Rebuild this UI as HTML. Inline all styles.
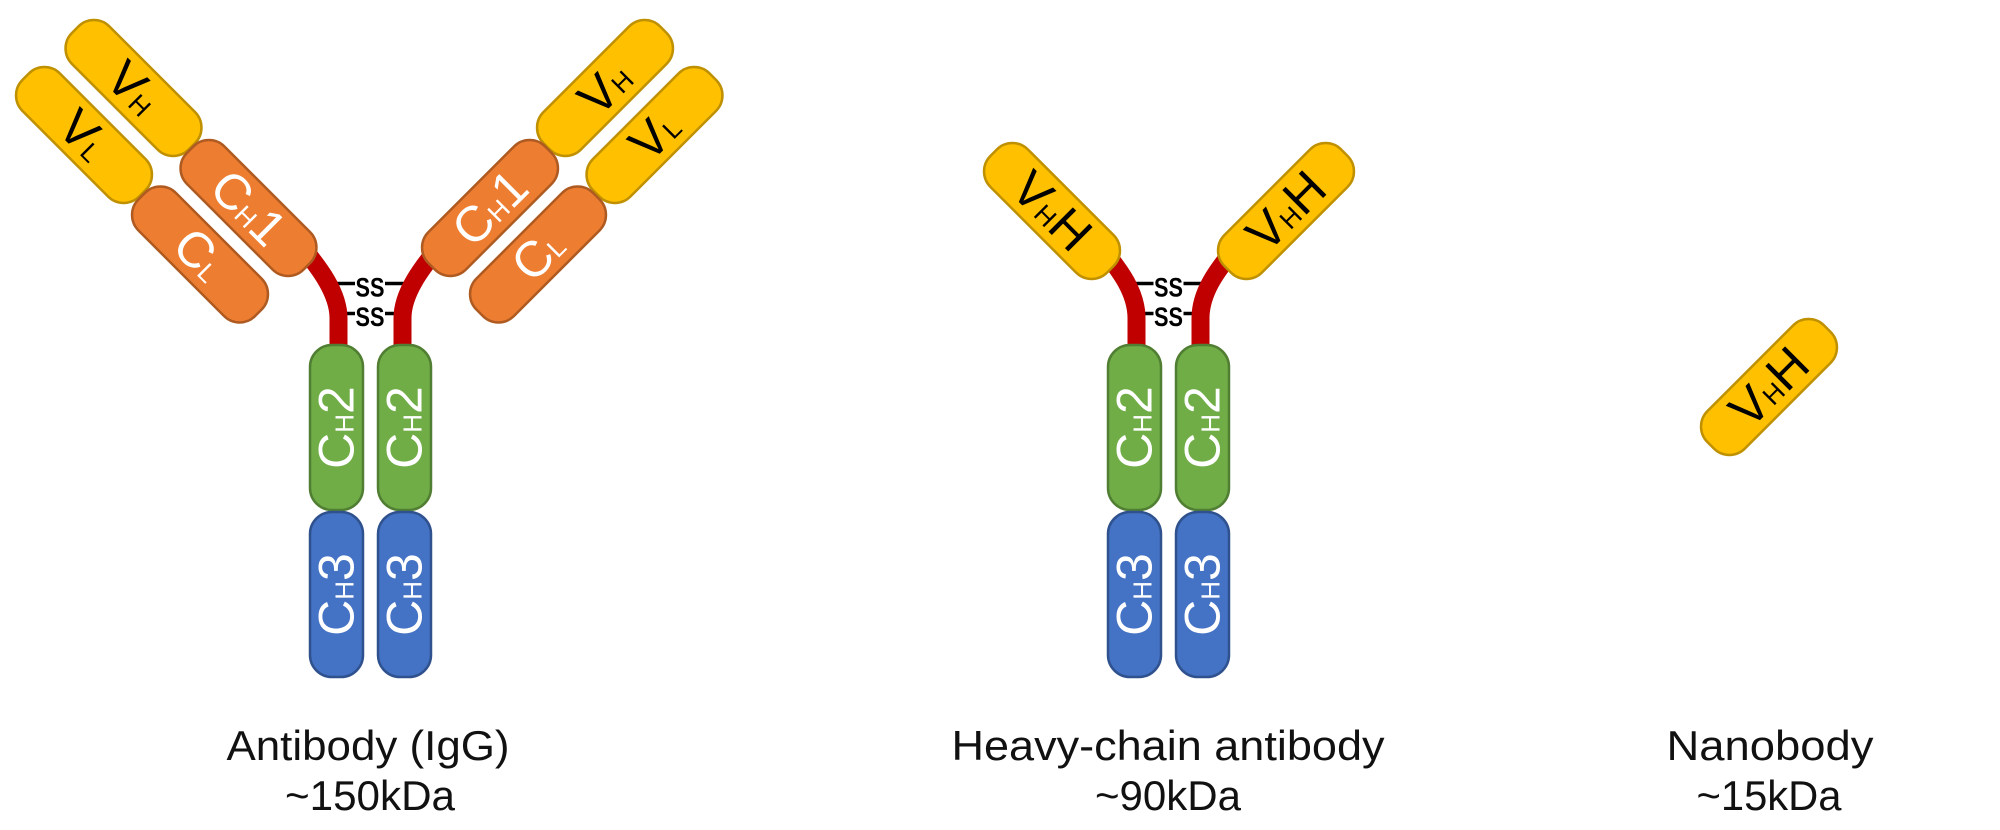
<!DOCTYPE html>
<html>
<head>
<meta charset="utf-8">
<style>
  html, body { margin: 0; padding: 0; background: #ffffff; }
  body { width: 2000px; height: 830px; overflow: hidden; }
  svg { display: block; }
  text { font-family: "Liberation Sans", "DejaVu Sans", sans-serif; }
</style>
</head>
<body>
<svg width="2000" height="830" viewBox="0 0 2000 830" xmlns="http://www.w3.org/2000/svg">
  <rect x="0" y="0" width="2000" height="830" fill="#ffffff"/>

  <!-- ================= ANTIBODY (IgG) ================= -->
  <g stroke="#000" stroke-width="3.5" fill="none">
    <line x1="326" y1="283.5" x2="355" y2="283.5"/>
    <line x1="385" y1="283.5" x2="415" y2="283.5"/>
    <line x1="336" y1="313.5" x2="355" y2="313.5"/>
    <line x1="385" y1="313.5" x2="405" y2="313.5"/>
  </g>
  <g stroke="#C00000" stroke-width="18" fill="none" stroke-linecap="butt">
    <path d="M303,248 C314,262 338.5,290 338.5,318 L338.5,350"/>
    <path d="M438,248 C427,262 402.5,290 402.5,318 L402.5,350"/>
  </g>
  <text x="370" y="296.5" font-size="27" font-weight="bold" text-anchor="middle" fill="#000" textLength="29" lengthAdjust="spacingAndGlyphs">SS</text>
  <text x="370" y="326" font-size="27" font-weight="bold" text-anchor="middle" fill="#000" textLength="29" lengthAdjust="spacingAndGlyphs">SS</text>

  <!-- left arm -->
  <g transform="translate(133.5,88) rotate(45)">
    <rect x="-82.5" y="-26.5" width="165" height="53" rx="22" fill="#FFC000" stroke="#BF9000" stroke-width="2.5"/>
    <text y="17" text-anchor="middle" font-size="50" fill="#000">V<tspan font-size="26">H</tspan></text>
  </g>
  <g transform="translate(84,135) rotate(45)">
    <rect x="-82.5" y="-26.5" width="165" height="53" rx="22" fill="#FFC000" stroke="#BF9000" stroke-width="2.5"/>
    <text y="17" text-anchor="middle" font-size="50" fill="#000">V<tspan font-size="26">L</tspan></text>
  </g>
  <g transform="translate(248.5,208) rotate(45)">
    <rect x="-82.5" y="-26.5" width="165" height="53" rx="22" fill="#ED7D31" stroke="#AE5A21" stroke-width="2.5"/>
    <text y="17" text-anchor="middle" font-size="50" fill="#fff">C<tspan font-size="26">H</tspan>1</text>
  </g>
  <g transform="translate(200,254.5) rotate(45)">
    <rect x="-82.5" y="-26.5" width="165" height="53" rx="22" fill="#ED7D31" stroke="#AE5A21" stroke-width="2.5"/>
    <text y="17" text-anchor="middle" font-size="50" fill="#fff">C<tspan font-size="26">L</tspan></text>
  </g>

  <!-- right arm -->
  <g transform="translate(605,88) rotate(-45)">
    <rect x="-82.5" y="-26.5" width="165" height="53" rx="22" fill="#FFC000" stroke="#BF9000" stroke-width="2.5"/>
    <text y="17" text-anchor="middle" font-size="50" fill="#000">V<tspan font-size="26">H</tspan></text>
  </g>
  <g transform="translate(654.5,135) rotate(-45)">
    <rect x="-82.5" y="-26.5" width="165" height="53" rx="22" fill="#FFC000" stroke="#BF9000" stroke-width="2.5"/>
    <text y="17" text-anchor="middle" font-size="50" fill="#000">V<tspan font-size="26">L</tspan></text>
  </g>
  <g transform="translate(490,208) rotate(-45)">
    <rect x="-82.5" y="-26.5" width="165" height="53" rx="22" fill="#ED7D31" stroke="#AE5A21" stroke-width="2.5"/>
    <text y="17" text-anchor="middle" font-size="50" fill="#fff">C<tspan font-size="26">H</tspan>1</text>
  </g>
  <g transform="translate(538,254.5) rotate(-45)">
    <rect x="-82.5" y="-26.5" width="165" height="53" rx="22" fill="#ED7D31" stroke="#AE5A21" stroke-width="2.5"/>
    <text y="17" text-anchor="middle" font-size="50" fill="#fff">C<tspan font-size="26">L</tspan></text>
  </g>

  <!-- Fc -->
  <g transform="translate(336.5,427.5) rotate(-90)">
    <rect x="-82.5" y="-26.5" width="165" height="53" rx="22" fill="#70AD47" stroke="#507E32" stroke-width="2.5"/>
    <text y="17" text-anchor="middle" font-size="50" fill="#fff">C<tspan font-size="26">H</tspan>2</text>
  </g>
  <g transform="translate(404.5,427.5) rotate(-90)">
    <rect x="-82.5" y="-26.5" width="165" height="53" rx="22" fill="#70AD47" stroke="#507E32" stroke-width="2.5"/>
    <text y="17" text-anchor="middle" font-size="50" fill="#fff">C<tspan font-size="26">H</tspan>2</text>
  </g>
  <g transform="translate(336.5,594.5) rotate(-90)">
    <rect x="-82.5" y="-26.5" width="165" height="53" rx="22" fill="#4472C4" stroke="#2F528F" stroke-width="2.5"/>
    <text y="17" text-anchor="middle" font-size="50" fill="#fff">C<tspan font-size="26">H</tspan>3</text>
  </g>
  <g transform="translate(404.5,594.5) rotate(-90)">
    <rect x="-82.5" y="-26.5" width="165" height="53" rx="22" fill="#4472C4" stroke="#2F528F" stroke-width="2.5"/>
    <text y="17" text-anchor="middle" font-size="50" fill="#fff">C<tspan font-size="26">H</tspan>3</text>
  </g>

  <text x="368" y="760" font-size="42" text-anchor="middle" fill="#111" textLength="283" lengthAdjust="spacingAndGlyphs">Antibody (IgG)</text>
  <text x="370" y="810" font-size="42" text-anchor="middle" fill="#111" textLength="170" lengthAdjust="spacingAndGlyphs">~150kDa</text>

  <!-- ================= HEAVY-CHAIN ANTIBODY ================= -->
  <g stroke="#000" stroke-width="3.5" fill="none">
    <line x1="1124" y1="283.5" x2="1153.5" y2="283.5"/>
    <line x1="1183.5" y1="283.5" x2="1213" y2="283.5"/>
    <line x1="1134" y1="313.5" x2="1153.5" y2="313.5"/>
    <line x1="1183.5" y1="313.5" x2="1203" y2="313.5"/>
  </g>
  <g stroke="#C00000" stroke-width="18" fill="none" stroke-linecap="butt">
    <path d="M1105,252 C1116,266 1136.5,290 1136.5,318 L1136.5,350"/>
    <path d="M1232,252 C1221,266 1200.5,290 1200.5,318 L1200.5,350"/>
  </g>
  <text x="1168.5" y="296.5" font-size="27" font-weight="bold" text-anchor="middle" fill="#000" textLength="29" lengthAdjust="spacingAndGlyphs">SS</text>
  <text x="1168.5" y="326" font-size="27" font-weight="bold" text-anchor="middle" fill="#000" textLength="29" lengthAdjust="spacingAndGlyphs">SS</text>

  <g transform="translate(1052,211) rotate(45)">
    <rect x="-82.5" y="-26.5" width="165" height="53" rx="22" fill="#FFC000" stroke="#BF9000" stroke-width="2.5"/>
    <text y="17" text-anchor="middle" font-size="50" fill="#000">V<tspan font-size="26">H</tspan>H</text>
  </g>
  <g transform="translate(1286,211) rotate(-45)">
    <rect x="-82.5" y="-26.5" width="165" height="53" rx="22" fill="#FFC000" stroke="#BF9000" stroke-width="2.5"/>
    <text y="17" text-anchor="middle" font-size="50" fill="#000">V<tspan font-size="26">H</tspan>H</text>
  </g>

  <g transform="translate(1134.5,427.5) rotate(-90)">
    <rect x="-82.5" y="-26.5" width="165" height="53" rx="22" fill="#70AD47" stroke="#507E32" stroke-width="2.5"/>
    <text y="17" text-anchor="middle" font-size="50" fill="#fff">C<tspan font-size="26">H</tspan>2</text>
  </g>
  <g transform="translate(1202.5,427.5) rotate(-90)">
    <rect x="-82.5" y="-26.5" width="165" height="53" rx="22" fill="#70AD47" stroke="#507E32" stroke-width="2.5"/>
    <text y="17" text-anchor="middle" font-size="50" fill="#fff">C<tspan font-size="26">H</tspan>2</text>
  </g>
  <g transform="translate(1134.5,594.5) rotate(-90)">
    <rect x="-82.5" y="-26.5" width="165" height="53" rx="22" fill="#4472C4" stroke="#2F528F" stroke-width="2.5"/>
    <text y="17" text-anchor="middle" font-size="50" fill="#fff">C<tspan font-size="26">H</tspan>3</text>
  </g>
  <g transform="translate(1202.5,594.5) rotate(-90)">
    <rect x="-82.5" y="-26.5" width="165" height="53" rx="22" fill="#4472C4" stroke="#2F528F" stroke-width="2.5"/>
    <text y="17" text-anchor="middle" font-size="50" fill="#fff">C<tspan font-size="26">H</tspan>3</text>
  </g>

  <text x="1168" y="760" font-size="42" text-anchor="middle" fill="#111" textLength="433" lengthAdjust="spacingAndGlyphs">Heavy-chain antibody</text>
  <text x="1168" y="810" font-size="42" text-anchor="middle" fill="#111" textLength="146" lengthAdjust="spacingAndGlyphs">~90kDa</text>

  <!-- ================= NANOBODY ================= -->
  <g transform="translate(1769,387) rotate(-45)">
    <rect x="-82.5" y="-26.5" width="165" height="53" rx="22" fill="#FFC000" stroke="#BF9000" stroke-width="2.5"/>
    <text y="17" text-anchor="middle" font-size="50" fill="#000">V<tspan font-size="26">H</tspan>H</text>
  </g>

  <text x="1770" y="760" font-size="42" text-anchor="middle" fill="#111" textLength="207" lengthAdjust="spacingAndGlyphs">Nanobody</text>
  <text x="1769" y="810" font-size="42" text-anchor="middle" fill="#111" textLength="145" lengthAdjust="spacingAndGlyphs">~15kDa</text>
</svg>
</body>
</html>
